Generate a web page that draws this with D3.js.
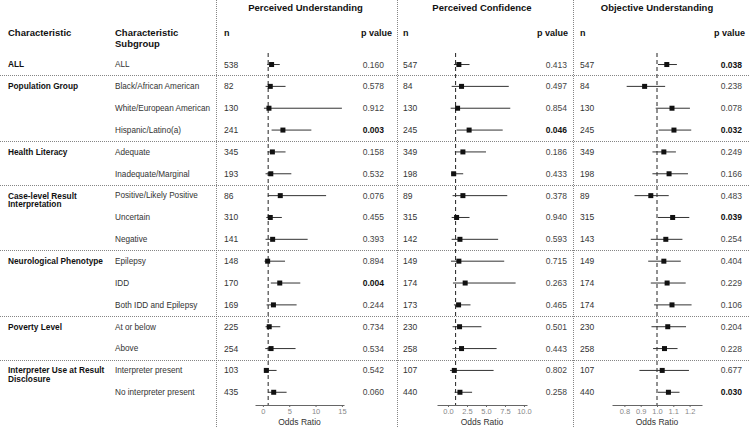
<!DOCTYPE html>
<html>
<head>
<meta charset="utf-8">
<script src="https://cdn.jsdelivr.net/npm/d3@7"></script>
<style>
  body { margin: 0; background: #fff; }
  svg { font-family: "Liberation Sans", Arial, sans-serif; }
</style>
</head>
<body>
<svg width="750" height="428"></svg>
<script>
// ---- data ----
var groups = ["ALL", "Population Group", "Health Literacy", "Case-level Result\nInterpretation",
  "Neurological Phenotype", "Poverty Level", "Interpreter Use at Result\nDisclosure"];
var groupSizes = [1, 3, 2, 3, 3, 2, 2];
var subgroups = ["ALL", "Black/African American", "White/European American", "Hispanic/Latino(a)",
  "Adequate", "Inadequate/Marginal", "Positive/Likely Positive", "Uncertain", "Negative",
  "Epilepsy", "IDD", "Both IDD and Epilepsy", "At or below", "Above",
  "Interpreter present", "No interpreter present"];

var puN  = [538, 82, 130, 241, 345, 193, 86, 310, 141, 148, 170, 169, 225, 254, 103, 435];
var puOR = [1.65, 1.4, 1.15, 3.8, 1.8, 1.5, 3.3, 1.4, 1.85, 0.9, 3.2, 2.0, 1.2, 1.55, 0.65, 2.05];
var puLo = [0.8, 0.5, 0.2, 1.65, 0.9, 0.5, 0.95, 0.65, 0.5, 0.3, 1.5, 0.7, 0.5, 0.45, 0.2, 1.0];
var puHi = [3.2, 4.3, 15.0, 9.2, 4.3, 5.4, 12.0, 3.6, 8.5, 4.2, 7.1, 6.4, 3.3, 6.2, 2.6, 4.5];
var puP  = ["0.160", "0.578", "0.912", "0.003", "0.158", "0.532", "0.076", "0.455", "0.393",
  "0.894", "0.004", "0.244", "0.734", "0.534", "0.542", "0.060"];

var pcN  = [547, 84, 130, 245, 349, 198, 89, 315, 142, 149, 174, 173, 230, 258, 107, 440];
var pcOR = [1.43, 1.78, 1.26, 2.78, 1.96, 0.74, 1.96, 1.13, 1.57, 1.43, 2.26, 1.39, 1.52, 1.78, 0.83, 1.57];
var pcLo = [0.78, 0.48, 0.35, 1.13, 0.9, 0.43, 0.6, 0.48, 0.48, 0.39, 0.65, 0.78, 0.6, 0.57, 0.26, 0.87];
var pcHi = [2.83, 8.0, 8.2, 7.2, 5.0, 2.0, 7.8, 2.83, 6.6, 7.4, 8.9, 2.96, 4.4, 6.4, 6.0, 3.17];
var pcP  = ["0.413", "0.497", "0.854", "0.046", "0.186", "0.433", "0.378", "0.940", "0.593",
  "0.715", "0.263", "0.465", "0.501", "0.443", "0.802", "0.258"];

var ouN  = [547, 84, 130, 245, 349, 198, 89, 315, 143, 149, 174, 174, 230, 258, 107, 440];
var ouOR = [1.06, 0.924, 1.092, 1.104, 1.042, 1.074, 0.962, 1.096, 1.054, 1.042, 1.062, 1.092, 1.066, 1.046, 1.032, 1.07];
var ouLo = [1.006, 0.814, 0.992, 1.01, 0.972, 0.972, 0.862, 1.006, 0.962, 0.946, 0.962, 0.982, 0.966, 0.976, 0.892, 1.006];
var ouHi = [1.122, 1.05, 1.202, 1.21, 1.116, 1.19, 1.072, 1.198, 1.156, 1.146, 1.176, 1.212, 1.178, 1.126, 1.196, 1.138];
var ouP  = ["0.038", "0.238", "0.078", "0.032", "0.249", "0.166", "0.483", "0.039", "0.254",
  "0.404", "0.229", "0.106", "0.204", "0.228", "0.677", "0.030"];

var titles = ["Perceived Understanding", "Perceived Confidence", "Objective Understanding"];
var tickSets = [[0, 5, 10, 15], [0, 2.5, 5, 7.5, 10], [0.8, 0.9, 1.0, 1.1, 1.2]];

// ---- layout ----
var svg = d3.select('svg');
var W = +svg.attr('width'), H = +svg.attr('height');
var textCol = '#333';

var y = d3.scaleBand()
  .domain(subgroups)
  .range([53.6, 403.2]);
var yc = function(d) { return y(d) + y.bandwidth() / 2; };

var panels = [
  {title: titles[0], line: 216, nX: 224, axis: [255, 344], dom: [-1.5, 15.4], pX: 384, pHead: 392,
   ticks: tickSets[0], fmt: d3.format('d'), n: puN, or: puOR, lo: puLo, hi: puHi, p: puP},
  {title: titles[1], line: 397, nX: 403, axis: [437, 527], dom: [-1.45, 10.4], pX: 567, pHead: 568,
   ticks: tickSets[1], fmt: d3.format('.1f'), n: pcN, or: pcOR, lo: pcLo, hi: pcHi, p: pcP},
  {title: titles[2], line: 573, nX: 580, axis: [612, 702], dom: [0.724, 1.276], pX: 742, pHead: 745,
   ticks: tickSets[2], fmt: d3.format('.1f'), n: ouN, or: ouOR, lo: ouLo, hi: ouHi, p: ouP}
];

// group separators (full width dotted)
var sepIdx = [];
var acc = 0;
groupSizes.forEach(function(s) { acc += s; sepIdx.push(acc); });
sepIdx.pop();

svg.selectAll('.sep')
  .data(sepIdx)
  .enter()
  .append('line')
  .attr('class', 'sep')
  .attr('x1', 0).attr('x2', W)
  .attr('y1', d => Math.round(y(subgroups[d])) + 0.5)
  .attr('y2', d => Math.round(y(subgroups[d])) + 0.5)
  .style('stroke', '#666')
  .style('stroke-width', 0.8)
  .style('stroke-dasharray', '1,1');

// vertical panel dividers
svg.selectAll('.vdiv')
  .data(panels)
  .enter()
  .append('line')
  .attr('class', 'vdiv')
  .attr('x1', d => d.line + 0.5).attr('x2', d => d.line + 0.5)
  .attr('y1', 0).attr('y2', H)
  .style('stroke', '#666')
  .style('stroke-width', 0.8)
  .style('stroke-dasharray', '1,1');

// left table headers
svg.append('text')
  .attr('x', 8).attr('y', 33)
  .attr('dy', '0.35em')
  .style('font-size', '9.5px').style('font-weight', 'bold').style('fill', '#111')
  .text('Characteristic');

svg.append('text')
  .attr('x', 115).attr('y', 33)
  .style('font-size', '9.5px').style('font-weight', 'bold').style('fill', '#111')
  .selectAll('tspan')
  .data(['Characteristic', 'Subgroup'])
  .enter()
  .append('tspan')
  .attr('x', 115)
  .attr('dy', (d, i) => i === 0 ? '0.35em' : '11px')
  .text(d => d);

// group labels
var groupStart = [];
acc = 0;
groupSizes.forEach(function(s) { groupStart.push(acc); acc += s; });

svg.selectAll('.group-label')
  .data(groups)
  .enter()
  .append('text')
  .attr('class', 'group-label')
  .attr('x', 8)
  .attr('y', (d, i) => yc(subgroups[groupStart[i]]))
  .style('font-size', '8.3px').style('font-weight', 'bold').style('fill', '#111')
  .each(function(d) {
    d3.select(this).selectAll('tspan')
      .data(d.split('\n'))
      .enter()
      .append('tspan')
      .attr('x', 8)
      .attr('dy', (t, j) => j === 0 ? '0.35em' : '8.8px')
      .text(t => t);
  });

// subgroup labels
svg.selectAll('.sub-label')
  .data(subgroups)
  .enter()
  .append('text')
  .attr('class', 'sub-label')
  .attr('x', 115)
  .attr('y', d => yc(d))
  .attr('dy', '0.35em')
  .style('font-size', '8.2px').style('fill', textCol)
  .text(d => d);

// panels
panels.forEach(function(pn) {
  var g = svg.append('g').attr('class', 'panel');
  var x = d3.scaleLinear().domain(pn.dom).range(pn.axis);

  g.append('text')
    .attr('x', (pn.axis[0] + pn.axis[1]) / 2 + (pn === panels[0] ? 6 : 0))
    .attr('y', 8).attr('dy', '0.35em')
    .attr('text-anchor', 'middle')
    .style('font-size', '9.5px').style('font-weight', 'bold').style('fill', '#111')
    .text(pn.title);

  g.append('text')
    .attr('x', pn.nX).attr('y', 33).attr('dy', '0.35em')
    .style('font-size', '9px').style('font-weight', 'bold').style('fill', '#111')
    .text('n');

  g.append('text')
    .attr('x', pn.pHead).attr('y', 33).attr('dy', '0.35em')
    .attr('text-anchor', 'end')
    .style('font-size', '9px').style('font-weight', 'bold').style('fill', '#111')
    .text('p value');

  // n column
  g.selectAll('.n')
    .data(pn.n)
    .enter()
    .append('text')
    .attr('x', pn.nX)
    .attr('y', (d, i) => yc(subgroups[i]))
    .attr('dy', '0.35em')
    .style('font-size', '8.5px').style('fill', textCol)
    .text(d => d);

  // p values
  g.selectAll('.p')
    .data(pn.p)
    .enter()
    .append('text')
    .attr('x', pn.pX)
    .attr('y', (d, i) => yc(subgroups[i]))
    .attr('dy', '0.35em')
    .attr('text-anchor', 'end')
    .style('font-size', '8.5px')
    .style('font-weight', d => +d < 0.05 ? 'bold' : 'normal')
    .style('fill', d => +d < 0.05 ? '#111' : '#444')
    .text(d => d);

  // reference line at OR = 1
  g.append('line')
    .attr('x1', x(1)).attr('x2', x(1))
    .attr('y1', 53).attr('y2', 405)
    .style('stroke', '#222')
    .style('stroke-width', 1)
    .style('stroke-dasharray', '4,3');

  // CIs
  g.selectAll('.ci')
    .data(pn.or)
    .enter()
    .append('line')
    .attr('x1', (d, i) => x(pn.lo[i]))
    .attr('x2', (d, i) => x(pn.hi[i]))
    .attr('y1', (d, i) => yc(subgroups[i]))
    .attr('y2', (d, i) => yc(subgroups[i]))
    .style('stroke', '#333')
    .style('stroke-width', 1);

  g.selectAll('.pt')
    .data(pn.or)
    .enter()
    .append('rect')
    .attr('x', d => x(d) - 2.5)
    .attr('y', (d, i) => yc(subgroups[i]) - 2.5)
    .attr('width', 5).attr('height', 5)
    .style('fill', '#111');

  // axis
  var axis = d3.axisBottom(x)
    .tickValues(pn.ticks)
    .tickFormat(pn.fmt)
    .tickSize(2)
    .tickSizeOuter(0);

  var ax = g.append('g')
    .attr('transform', 'translate(0,405)')
    .call(axis);
  ax.select('.domain').style('stroke', '#666');
  ax.selectAll('.tick line').style('stroke', '#666');
  ax.selectAll('.tick text')
    .attr('y', 4)
    .style('font-size', '7.5px')
    .style('font-family', '"Liberation Sans", Arial, sans-serif')
    .style('fill', '#888');

  g.append('text')
    .attr('x', (pn.axis[0] + pn.axis[1]) / 2)
    .attr('y', 422).attr('dy', '0.35em')
    .attr('text-anchor', 'middle')
    .style('font-size', '8.5px').style('fill', textCol)
    .text('Odds Ratio');
});
</script>
</body>
</html>
